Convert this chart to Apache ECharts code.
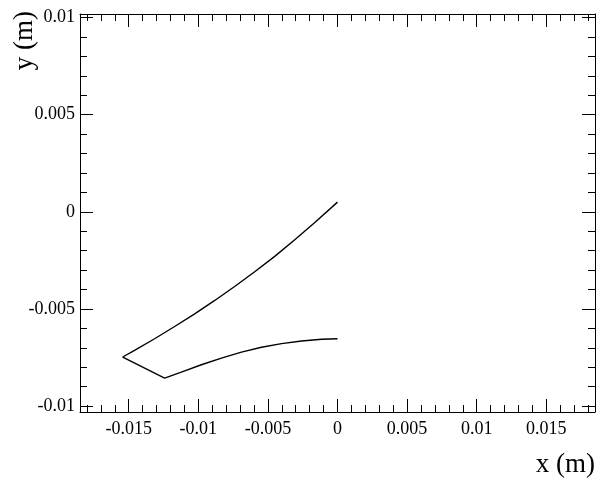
<!DOCTYPE html>
<html>
<head>
<meta charset="utf-8">
<script src="https://cdn.jsdelivr.net/npm/echarts@6/dist/echarts.min.js"></script>
<style>
  html, body { margin: 0; padding: 0; background: #fff; }
  #chart { width: 599px; height: 481px; }
</style>
</head>
<body>
<div id="chart"></div>
<script>
// Trajectory in the x-y plane (metres), drawn as one continuous path:
// upper branch down to the left corner, short leg to the lower corner, lower branch back to x = 0
const pathX = [0.0, -0.00163, -0.00307, -0.00451, -0.00595, -0.00739, -0.00882, -0.01026, -0.01170,
               -0.01314, -0.01458, -0.01543,
               -0.01242, -0.01122, -0.00978, -0.00834, -0.00690, -0.00546, -0.00402, -0.00258,
               -0.00114, 0.0];
const pathY = [0.0005, -0.00055, -0.00144, -0.00229, -0.00308, -0.00384, -0.00456, -0.00525, -0.00590,
               -0.00653, -0.00713, -0.00747,
               -0.00856, -0.00825, -0.00787, -0.00753, -0.00722, -0.00697, -0.00678, -0.00665,
               -0.00656, -0.00653];

// Axis ranges and tick positions
const xRange = [-0.0185, 0.0185];
const yRange = [-0.0103, 0.01018];
const xMajor = [-0.015, -0.01, -0.005, 0, 0.005, 0.01, 0.015];
const xMinor = [-0.018, -0.017, -0.016, -0.014, -0.013, -0.012, -0.011, -0.009, -0.008, -0.007, -0.006,
                -0.004, -0.003, -0.002, -0.001, 0.001, 0.002, 0.003, 0.004, 0.006, 0.007, 0.008, 0.009,
                0.011, 0.012, 0.013, 0.014, 0.016, 0.017, 0.018];
const yMajor = [-0.01, -0.005, 0, 0.005, 0.01];
const yMinor = [-0.009, -0.008, -0.007, -0.006, -0.004, -0.003, -0.002, -0.001,
                0.001, 0.002, 0.003, 0.004, 0.006, 0.007, 0.008, 0.009];

const FONT = '"Liberation Serif", "DejaVu Serif", serif';
const fmt = v => String(Number(v.toFixed(4)));

// One axis layer: either major ticks (+ frame line, optional labels) or minor ticks only
function axisSet(kind, position, ticks, len, withLine, withLabels, range) {
  return {
    type: 'value',
    position: position,
    min: range[0],
    max: range[1],
    axisLine: { show: withLine, onZero: false, lineStyle: { color: '#000', width: 1 } },
    axisTick: { show: true, inside: true, length: len, customValues: ticks,
                lineStyle: { color: '#000', width: 1 } },
    axisLabel: withLabels
      ? { show: true, customValues: ticks, formatter: fmt, fontFamily: FONT, fontSize: 18,
          color: '#000', margin: kind === 'x' ? 8 : 5 }
      : { show: false },
    splitLine: { show: false }
  };
}

const chart = echarts.init(document.getElementById('chart'), null, { renderer: 'canvas' });

chart.setOption({
  animation: false,
  backgroundColor: '#fff',
  grid: { left: 80, right: 4, top: 14, bottom: 69, containLabel: false },
  xAxis: [
    axisSet('x', 'bottom', xMajor, 13, true, true, xRange),
    axisSet('x', 'bottom', xMinor, 7, false, false, xRange),
    axisSet('x', 'top', xMajor, 13, true, false, xRange),
    axisSet('x', 'top', xMinor, 7, false, false, xRange)
  ],
  yAxis: [
    axisSet('y', 'left', yMajor, 13, true, true, yRange),
    axisSet('y', 'left', yMinor, 7, false, false, yRange),
    axisSet('y', 'right', yMajor, 13, true, false, yRange),
    axisSet('y', 'right', yMinor, 7, false, false, yRange)
  ],
  series: [{
    type: 'line',
    xAxisIndex: 0,
    yAxisIndex: 0,
    showSymbol: false,
    smooth: false,
    lineStyle: { color: '#000', width: 1.4 },
    data: pathX.map((x, i) => [x, pathY[i]])
  }],
  graphic: [
    { type: 'text', right: 4, top: 451,
      style: { text: 'x (m)', font: '27px ' + FONT, fill: '#000' } },
    { type: 'text', left: 11, top: 11, rotation: Math.PI / 2,
      style: { text: 'y (m)', font: '27px ' + FONT, fill: '#000' } }
  ]
});
</script>
</body>
</html>
